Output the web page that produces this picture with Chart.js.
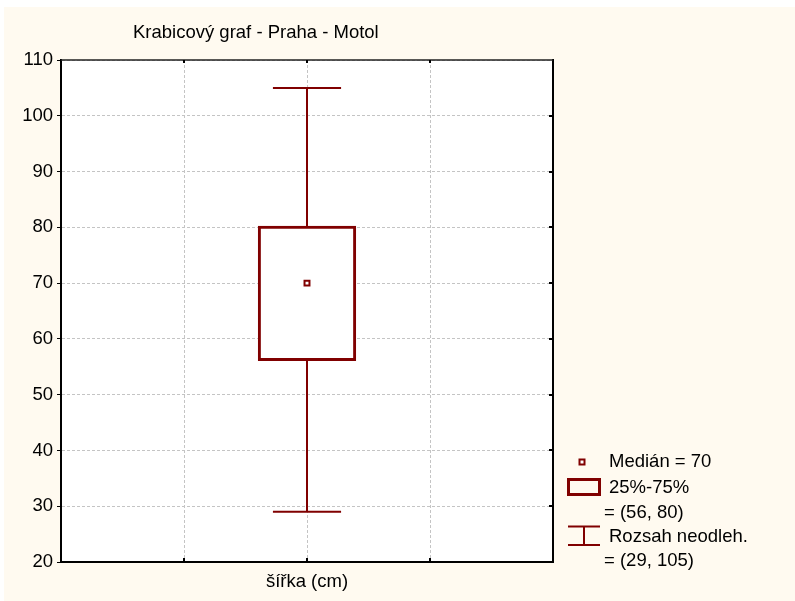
<!DOCTYPE html>
<html>
<head>
<meta charset="utf-8">
<script src="https://cdn.jsdelivr.net/npm/chart.js@4"></script>
<style>
  html, body { margin: 0; padding: 0; background: #ffffff; }
  #wrap { position: absolute; left: 4px; top: 7px; width: 791px; height: 594px; background: #FFFAF0; }
</style>
</head>
<body>
<div id="wrap"><canvas id="boxChart"></canvas></div>
<script>
const chartTitle = 'Krabicový graf - Praha - Motol';
const categories = ['šířka (cm)'];
const categorySlot = [2];          // where the box sits on the 0..4 x axis
const medians = [70];
const lowerQuartiles = [56.3];
const upperQuartiles = [80];
const whiskerLow = [29];
const whiskerHigh = [105];
const yMin = 20;
const yMax = 110;
const yStep = 10;
const xMax = 4;

const DARK_RED = '#800000';
const FONT = '"Liberation Sans", Arial, sans-serif';
const FONT_SIZE = 18.5;
const CAP = 0.277;                 // half width of whisker caps (axis units)

// data for the datasets
const boxData = categories.map((c, i) => ({ x: categorySlot[i], y: [lowerQuartiles[i], upperQuartiles[i]] }));
const medianData = categories.map((c, i) => ({ x: categorySlot[i], y: medians[i] }));
const whiskerData = [];
const capData = [];
categories.forEach((c, i) => {
    const x = categorySlot[i];
    whiskerData.push({ x, y: whiskerLow[i] }, { x, y: lowerQuartiles[i] }, { x, y: null },
                     { x, y: upperQuartiles[i] }, { x, y: whiskerHigh[i] }, { x, y: null });
    capData.push({ x: x - CAP, y: whiskerLow[i] }, { x: x + CAP, y: whiskerLow[i] }, { x, y: null },
                 { x: x - CAP, y: whiskerHigh[i] }, { x: x + CAP, y: whiskerHigh[i] }, { x, y: null });
});

// white plot area
const plotBg = {
    id: 'plotBg',
    beforeDraw(chart) {
        const { ctx, chartArea: a } = chart;
        ctx.save();
        ctx.fillStyle = '#ffffff';
        ctx.fillRect(a.left, a.top, a.right - a.left, a.bottom - a.top);
        ctx.restore();
    }
};

// top/right frame, inward ticks, title
const frame = {
    id: 'frame',
    afterDraw(chart) {
        const { ctx, chartArea: a, scales } = chart;
        ctx.save();
        ctx.strokeStyle = '#000';
        ctx.lineWidth = 2;
        ctx.beginPath();
        ctx.moveTo(a.right, a.top - 1);
        ctx.lineTo(a.right, a.bottom + 1);
        ctx.stroke();
        ctx.lineWidth = 1.5;
        ctx.strokeStyle = '#222';
        ctx.beginPath();
        ctx.moveTo(a.left, a.top);
        ctx.lineTo(a.right, a.top);
        ctx.stroke();

        ctx.lineWidth = 2;
        ctx.strokeStyle = '#000';
        ctx.beginPath();
        for (let v = yMin + yStep; v < yMax; v += yStep) {
            const y = Math.round(scales.y.getPixelForValue(v));
            ctx.moveTo(a.right - 4, y);
            ctx.lineTo(a.right, y);
        }
        for (let v = 1; v < xMax; v++) {
            const x = Math.round(scales.x.getPixelForValue(v));
            ctx.moveTo(x, a.bottom - 4);
            ctx.lineTo(x, a.bottom);
            ctx.moveTo(x, a.top);
            ctx.lineTo(x, a.top + 3);
        }
        ctx.stroke();

        ctx.fillStyle = '#000';
        ctx.font = FONT_SIZE + 'px ' + FONT;
        ctx.textBaseline = 'middle';
        ctx.textAlign = 'left';
        ctx.fillText(chartTitle, a.left + 72, 26);
        ctx.restore();
    }
};

// legend in the lower right corner
const boxLegend = {
    id: 'boxLegend',
    afterDraw(chart) {
        const { ctx, chartArea: a } = chart;
        const iconL = a.right + 15;
        const textX = a.right + 56;
        const textX2 = a.right + 51;
        const b = a.bottom;
        ctx.save();
        ctx.strokeStyle = DARK_RED;
        ctx.fillStyle = '#fff';

        // median marker
        ctx.lineWidth = 2;
        ctx.fillRect(a.right + 26.5, b - 102.5, 5, 5);
        ctx.strokeRect(a.right + 26.5, b - 102.5, 5, 5);

        // box
        ctx.lineWidth = 3;
        ctx.strokeRect(iconL + 0.5, b - 82.5, 31, 15);

        // whisker
        ctx.lineWidth = 2;
        ctx.beginPath();
        ctx.moveTo(iconL, b - 35.5); ctx.lineTo(iconL + 32, b - 35.5);
        ctx.moveTo(iconL, b - 17); ctx.lineTo(iconL + 32, b - 17);
        ctx.moveTo(iconL + 16, b - 35.5); ctx.lineTo(iconL + 16, b - 17);
        ctx.stroke();

        ctx.fillStyle = '#000';
        ctx.font = FONT_SIZE + 'px ' + FONT;
        ctx.textBaseline = 'middle';
        ctx.textAlign = 'left';
        ctx.fillText('Medián = ' + medians[0], textX, b - 100);
        ctx.fillText('25%-75%', textX, b - 74);
        ctx.fillText('= (' + Math.round(lowerQuartiles[0]) + ', ' + upperQuartiles[0] + ')', textX2, b - 49);
        ctx.fillText('Rozsah neodleh.', textX, b - 25);
        ctx.fillText('= (' + whiskerLow[0] + ', ' + whiskerHigh[0] + ')', textX2, b - 1);
        ctx.restore();
    }
};

const ctx = document.getElementById('boxChart').getContext('2d');
new Chart(ctx, {
    type: 'bar',
    data: {
        datasets: [
            {
                type: 'line',
                label: 'Medián',
                data: medianData,
                showLine: false,
                pointStyle: 'rect',
                pointRadius: 3.5,
                pointBorderWidth: 2,
                pointBorderColor: DARK_RED,
                pointBackgroundColor: '#ffffff',
                order: 0
            },
            {
                type: 'line',
                label: 'whiskers',
                data: whiskerData,
                borderColor: DARK_RED,
                borderWidth: 2,
                pointRadius: 0,
                spanGaps: false,
                order: 1
            },
            {
                type: 'line',
                label: 'caps',
                data: capData,
                borderColor: DARK_RED,
                borderWidth: 2,
                pointRadius: 0,
                spanGaps: false,
                order: 1
            },
            {
                label: '25%-75%',
                data: boxData,
                backgroundColor: '#ffffff',
                borderColor: DARK_RED,
                borderWidth: 3,
                borderSkipped: false,
                inflateAmount: 1.5,
                categoryPercentage: 1,
                barPercentage: 0.775,
                order: 2
            }
        ]
    },
    options: {
        responsive: true,
        maintainAspectRatio: false,
        animation: false,
        events: [],
        layout: { padding: { top: 53, right: 242, bottom: 0, left: 0 } },
        plugins: {
            legend: { display: false },
            title: { display: false },
            tooltip: { enabled: false }
        },
        scales: {
            x: {
                type: 'linear',
                min: 0,
                max: xMax,
                offset: false,
                afterFit: (scale) => { scale.height = 39; },
                ticks: {
                    stepSize: 1,
                    color: '#000',
                    padding: 9,
                    maxRotation: 0,
                    autoSkip: false,
                    font: { family: FONT, size: FONT_SIZE },
                    callback: (v) => {
                        const i = categorySlot.indexOf(v);
                        return i >= 0 ? categories[i] : '';
                    }
                },
                grid: { color: '#c4c4c4', drawTicks: false, lineWidth: 1, offset: false },
                border: { display: true, color: '#000', width: 2, dash: [3, 2] }
            },
            y: {
                min: yMin,
                max: yMax,
                afterFit: (scale) => { scale.width = 57; },
                ticks: {
                    stepSize: yStep,
                    color: '#000',
                    padding: 4,
                    font: { family: FONT, size: FONT_SIZE }
                },
                grid: { color: '#c4c4c4', tickColor: '#000', tickLength: 4, tickBorderDash: [], lineWidth: 1 },
                border: { display: true, color: '#000', width: 2, dash: [3, 2] }
            }
        }
    },
    plugins: [plotBg, frame, boxLegend]
});
</script>
</body>
</html>
